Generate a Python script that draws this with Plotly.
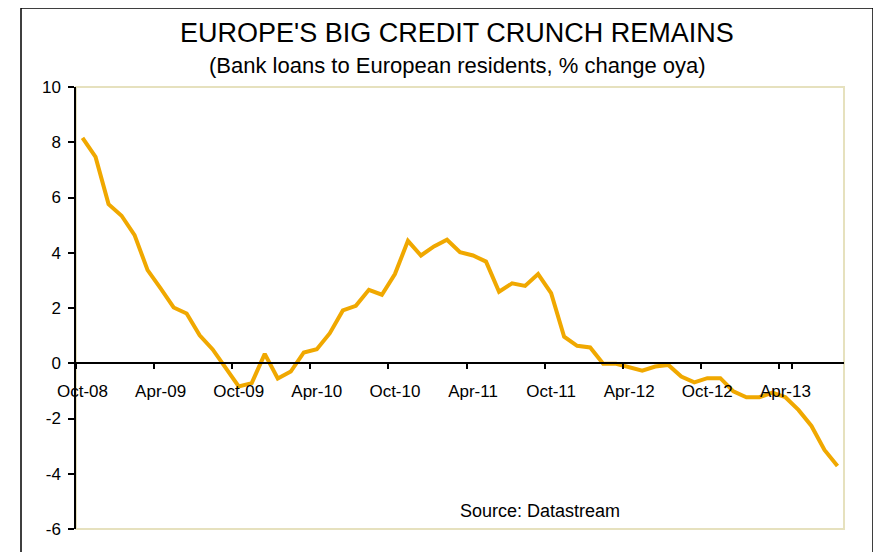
import plotly.graph_objects as go

months = ["Jan", "Feb", "Mar", "Apr", "May", "Jun", "Jul", "Aug", "Sep", "Oct", "Nov", "Dec"]

# Monthly categories Oct-08 .. Aug-13
categories = []
y, m = 2008, 9
for _ in range(59):
    categories.append(f"{months[m]}-{y % 100:02d}")
    m += 1
    if m == 12:
        m = 0
        y += 1

loan_growth = [
    8.16, 7.47, 5.76, 5.34, 4.64, 3.37, 2.71, 2.02, 1.80, 1.01,
    0.50, -0.15, -0.84, -0.72, 0.34, -0.55, -0.30, 0.39, 0.51, 1.09,
    1.91, 2.08, 2.66, 2.48, 3.23, 4.43, 3.90, 4.23, 4.47, 4.02,
    3.90, 3.68, 2.59, 2.89, 2.80, 3.23, 2.54, 0.96, 0.63, 0.57,
    -0.02, -0.02, -0.14, -0.27, -0.12, -0.06, -0.48, -0.69, -0.54, -0.54,
    -1.02, -1.23, -1.23, -1.06, -1.23, -1.69, -2.27, -3.14, -3.72,
]

tick_labels = categories[::6]
y_ticks = [-6, -4, -2, 0, 2, 4, 6, 8, 10]
y_tick_text = [str(v) for v in y_ticks]  # plain hyphen minus as in reference

FONT = "Liberation Sans, Arial, sans-serif"

fig = go.Figure()
fig.add_trace(go.Scatter(
    x=categories, y=loan_growth, mode="lines",
    line=dict(color="#F0A800", width=4),
    showlegend=False, hoverinfo="skip",
))

# page body has an 8px margin, so the figure is drawn 8px smaller
fig.update_layout(
    template="none",
    width=873, height=544,
    margin=dict(l=68, r=37, t=79, b=23, autoexpand=False),
    paper_bgcolor="white", plot_bgcolor="white",
    font=dict(family=FONT, color="black"),
    xaxis=dict(
        type="category", categoryorder="array", categoryarray=categories,
        range=[-0.5, 58.5], anchor="free", position=0.375, automargin=False,
        tickmode="array", tickvals=tick_labels, ticktext=tick_labels,
        tickson="boundaries", ticks="outside", ticklen=5, tickwidth=1.5,
        tickcolor="black", showline=True, linecolor="black", linewidth=1.5,
        showgrid=False, zeroline=False, tickangle=0, ticklabelstandoff=13,
        tickfont=dict(family=FONT, size=17, color="black"),
    ),
    yaxis=dict(
        range=[-6, 10], tickmode="array", tickvals=y_ticks, ticktext=y_tick_text,
        automargin=False,
        ticks="outside", ticklen=6, tickwidth=1.5, tickcolor="black",
        showline=True, linecolor="black", linewidth=1.5,
        showgrid=False, zeroline=False, ticklabelstandoff=4,
        tickfont=dict(family=FONT, size=17, color="black"),
    ),
    shapes=[
        dict(type="rect", xref="paper", yref="paper", x0=0, x1=1, y0=0, y1=1,
             line=dict(color="#E6E1BE", width=2), layer="below"),
        dict(type="rect", xref="paper", yref="paper",
             x0=(21 - 76) / 768, x1=(873 - 76) / 768,
             y0=-0.2, y1=1 + (87 - 8) / 442,
             line=dict(color="black", width=1.5), layer="below"),
    ],
    annotations=[
        dict(text="EUROPE'S BIG CREDIT CRUNCH REMAINS", xref="paper", yref="paper",
             x=0.4967, y=1 + 54 / 442, xanchor="center", yanchor="middle",
             showarrow=False, font=dict(family=FONT, size=27, color="black")),
        dict(text="(Bank loans to European residents, % change oya)", xref="paper", yref="paper",
             x=0.497, y=1 + 21 / 442, xanchor="center", yanchor="middle",
             showarrow=False, font=dict(family=FONT, size=22, color="black")),
        dict(text="Source: Datastream", xref="paper", yref="paper",
             x=(540 - 76) / 768, y=(529 - 511) / 442, xanchor="center", yanchor="middle",
             showarrow=False, font=dict(family=FONT, size=18, color="black")),
    ],
)

fig.write_html("out.html")
